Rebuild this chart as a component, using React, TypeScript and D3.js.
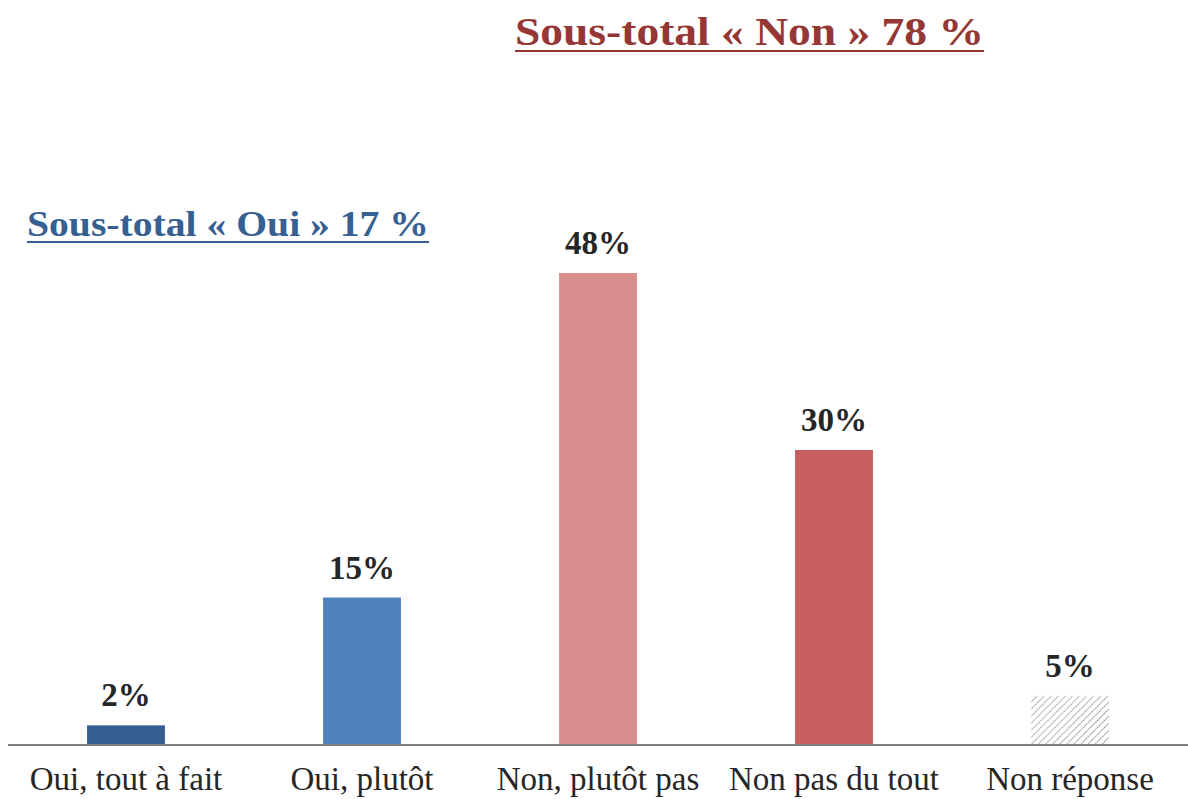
import * as d3 from "d3";

const categories = ["Oui, tout à fait", "Oui, plutôt", "Non, plutôt pas", "Non pas du tout", "Non réponse"];
const values = [2, 15, 48, 30, 5];
const valueLabels = ["2%", "15%", "48%", "30%", "5%"];
const barColors = ["#345F92", "#4F81BD", "#D78D8B", "#C65F5D", "url(#hatch)"];

const W = 1188;
const H = 799;
const baseY = 745;
const font = "'Liberation Serif', 'DejaVu Serif', serif";

export default function App() {
  const x = d3.scaleBand().domain(categories).range([8, W]).paddingInner(0.67).paddingOuter(0.335);
  const y = d3.scaleLinear().domain([0, 48]).range([baseY, 273]);

  return (
    <svg width={W} height={H} style={{ position: "absolute", left: 0, top: 0, background: "#fff" }}>
      <defs>
        <pattern id="hatch" width="5" height="5" patternUnits="userSpaceOnUse" patternTransform="rotate(45)">
          <rect width="5" height="5" fill="#fff" />
          <line x1="0" y1="0" x2="0" y2="5" stroke="#8c8c8c" strokeWidth="2" strokeDasharray="1.6 1" />
        </pattern>
      </defs>

      {categories.map((c, i) => (
        <g key={c}>
          <rect x={x(c)} y={y(values[i])} width={x.bandwidth()} height={baseY - y(values[i])} fill={barColors[i]} />
          <text x={(x(c) ?? 0) + x.bandwidth() / 2} y={y(values[i]) - 19} textAnchor="middle"
            fontFamily={font} fontWeight="bold" fontSize={33} fill="#262626">{valueLabels[i]}</text>
          <text x={(x(c) ?? 0) + x.bandwidth() / 2} y={790} textAnchor="middle"
            fontFamily={font} fontSize={33} fill="#262626">{c}</text>
        </g>
      ))}

      <line x1={8} x2={W} y1={baseY} y2={baseY} stroke="#7f7f7f" strokeWidth={2} />

      <text x={515} y={45} fontFamily={font} fontWeight="bold" fontSize={40} fill="#953735"
        textLength={469} lengthAdjust="spacingAndGlyphs">Sous-total « Non » 78 %</text>
      <line x1={515} x2={984} y1={51} y2={51} stroke="#953735" strokeWidth={2} />

      <text x={27} y={236} fontFamily={font} fontWeight="bold" fontSize={35} fill="#376092"
        textLength={402} lengthAdjust="spacingAndGlyphs">Sous-total « Oui » 17 %</text>
      <line x1={27} x2={429} y1={242} y2={242} stroke="#376092" strokeWidth={2} />
    </svg>
  );
}
